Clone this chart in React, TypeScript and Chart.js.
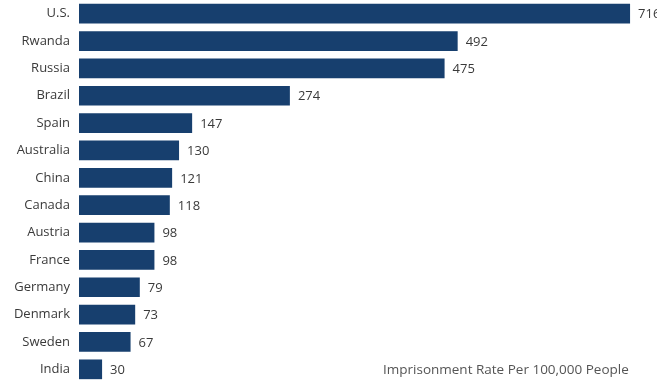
import React, { useEffect, useRef } from "react";
import { Chart, registerables } from "chart.js";

Chart.register(...registerables);

const countries = ["U.S.", "Rwanda", "Russia", "Brazil", "Spain", "Australia", "China", "Canada", "Austria", "France", "Germany", "Denmark", "Sweden", "India"];
const rates = [716, 492, 475, 274, 147, 130, 121, 118, 98, 98, 79, 73, 67, 30];
const axisMax = 751;
const caption = "Imprisonment Rate Per 100,000 People";

const FONT = "'Open Sans', 'Noto Sans', sans-serif";

const valueLabels = {
  id: "valueLabels",
  afterDatasetsDraw(chart: any) {
    const ctx = chart.ctx;
    const meta = chart.getDatasetMeta(0);
    ctx.save();
    ctx.font = `13px ${FONT}`;
    ctx.fillStyle = "#3a3a3a";
    ctx.textAlign = "left";
    ctx.textBaseline = "middle";
    meta.data.forEach((bar: any, i: number) => {
      ctx.fillText(String(rates[i]), bar.x + 8, bar.y + 1);
    });
    ctx.restore();
  },
};

export default function App() {
  const ref = useRef<HTMLCanvasElement>(null);
  useEffect(() => {
    if (!ref.current) return;
    const chart = new Chart(ref.current, {
      type: "bar",
      data: {
        labels: countries,
        datasets: [
          {
            data: rates,
            backgroundColor: "#173f6e",
            borderWidth: 0,
            barPercentage: 0.72,
            categoryPercentage: 1,
          },
        ],
      },
      options: {
        indexAxis: "y",
        animation: false,
        responsive: false,
        maintainAspectRatio: false,
        layout: { padding: { top: 0, bottom: 1, left: 0, right: 0 } },
        plugins: { legend: { display: false }, tooltip: { enabled: false } },
        scales: {
          x: { display: false, min: 0, max: axisMax },
          y: {
            grid: { display: false, drawTicks: false },
            border: { display: false },
            ticks: {
              color: "#3a3a3a",
              font: { family: FONT, size: 13 },
              padding: 9,
            },
            afterFit(scale: any) {
              scale.width = 79;
              scale.paddingTop = 0;
              scale.paddingBottom = 0;
            },
          },
        },
      },
      plugins: [valueLabels],
    });
    return () => chart.destroy();
  }, []);
  return (
    <div style={{ position: "fixed", left: 0, top: 0, width: 657, height: 384, background: "#fff" }}>
      <canvas ref={ref} width={657} height={384} style={{ display: "block" }} />
      <div
        style={{
          position: "absolute",
          left: 383,
          top: 360,
          fontFamily: FONT,
          fontSize: 13.5,
          color: "#555",
          whiteSpace: "nowrap",
        }}
      >
        {caption}
      </div>
    </div>
  );
}
